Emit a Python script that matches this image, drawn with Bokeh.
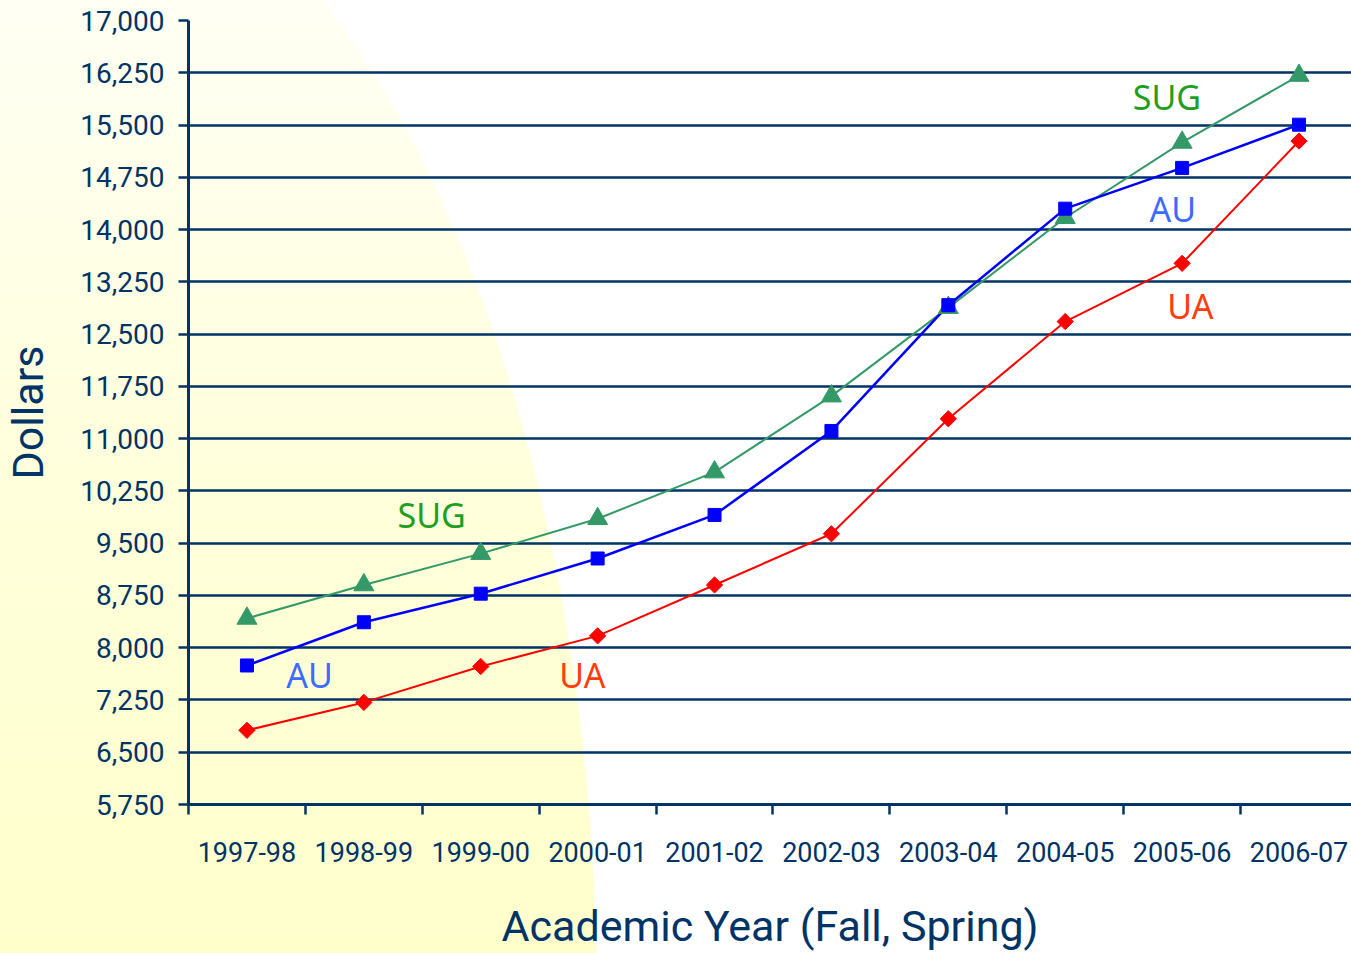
import numpy as np
from bokeh.plotting import figure
from bokeh.models import Range1d, FixedTicker, NumeralTickFormatter, ColumnDataSource
from bokeh.core.properties import value
from bokeh.embed import file_html
from bokeh.resources import INLINE

# ---------------- data ----------------
years = ["1997-98", "1998-99", "1999-00", "2000-01", "2001-02",
         "2002-03", "2003-04", "2004-05", "2005-06", "2006-07"]
sug = [8420, 8900, 9350, 9850, 10520, 11610, 12880, 14170, 15250, 16210]
au = [7745, 8365, 8775, 9280, 9905, 11110, 12915, 14300, 14885, 15505]
ua = [6815, 7215, 7730, 8170, 8900, 9635, 11285, 12680, 13515, 15270]

y_ticks = list(range(5750, 17001, 750))

label_text = ["SUG", "AU", "UA", "SUG", "AU", "UA"]
label_x = [2.08, 1.035, 3.37, 8.37, 8.42, 8.57]
label_y = [9906, 7613, 7613, 15897, 14291, 12901]
label_color = ["#1F9F1F", "#3D6BFF", "#FF3D0A", "#1F9F1F", "#3D6BFF", "#FF3D0A"]

NAVY = "#003366"
TICK_FONT = "Roboto"
LABEL_FONT = "Noto Sans"

x = [i + 0.5 for i in range(len(years))]

W, H = 1351, 953
p = figure(width=W, height=H, output_backend="svg", toolbar_location=None,
           x_range=Range1d(0, 9.949), y_range=Range1d(5750, 17000),
           min_border_left=188, min_border_top=20, min_border_bottom=148,
           min_border_right=0)
p.outline_line_color = None
p.background_fill_color = None
p.border_fill_color = None

# decorative yellow background (CSS behind the transparent canvas)
p.stylesheets = [
    ":host { background-color: #ffffff; background-image: "
    "linear-gradient(to bottom, rgba(255,255,255,0.78) 0%, rgba(255,255,255,0.35) 45%, rgba(255,255,255,0) 100%), "
    "radial-gradient(598px 1191px at 0px 1000px, #ffffcc 0%, #ffffcc 99.6%, #ffffff 100%); }"
]

# ---------------- grid ----------------
p.xgrid.grid_line_color = None
p.ygrid.grid_line_color = NAVY
p.ygrid.grid_line_width = 2.5
p.ygrid.ticker = FixedTicker(ticks=y_ticks)

# ---------------- lines ----------------
p.line(x, sug, line_color="#339966", line_width=2)
p.line(x, au, line_color="#0000FF", line_width=2.5)
p.line(x, ua, line_color="#FF0000", line_width=2)
p.scatter(x, sug, marker="triangle", size=20, fill_color="#339966", line_color="#339966")
p.scatter(x, au, marker="square", size=13, fill_color="#0000FF", line_color="#0000FF")
p.scatter(x, ua, marker="square", angle=np.pi / 4, size=11.5,
          fill_color="#FF0000", line_color="#FF0000")

src = ColumnDataSource(dict(x=label_x, y=label_y, t=label_text, c=label_color))
p.text(x="x", y="y", text="t", source=src, text_color="c",
       text_font=value(LABEL_FONT), text_font_size="34px",
       text_align="center", text_baseline="middle")

# ---------------- axes ----------------
yax = p.yaxis[0]
yax.ticker = FixedTicker(ticks=y_ticks)
yax.formatter = NumeralTickFormatter(format="0,0")
yax.axis_line_color = NAVY
yax.axis_line_width = 3
yax.major_tick_line_color = NAVY
yax.major_tick_line_width = 2.5
yax.major_tick_out = 10
yax.major_tick_in = 0
yax.minor_tick_line_color = None
yax.major_label_text_font = TICK_FONT
yax.major_label_text_font_size = "28px"
yax.major_label_text_color = NAVY
yax.major_label_standoff = 14
yax.axis_label = "Dollars"
yax.axis_label_text_font = TICK_FONT
yax.axis_label_text_font_size = "43px"
yax.axis_label_text_font_style = "normal"
yax.axis_label_text_color = NAVY
yax.axis_label_standoff = 24

xax = p.xaxis[0]
xax.ticker = FixedTicker(ticks=x, minor_ticks=list(range(0, len(years) + 1)))
xax.major_label_overrides = {xi: yr for xi, yr in zip(x, years)}
xax.axis_line_color = NAVY
xax.axis_line_width = 3
xax.major_tick_line_color = None
xax.major_tick_out = 0
xax.major_tick_in = 0
xax.minor_tick_line_color = NAVY
xax.minor_tick_line_width = 2.5
xax.minor_tick_out = 10
xax.minor_tick_in = 0
xax.major_label_text_font = TICK_FONT
xax.major_label_text_font_size = "27px"
xax.major_label_text_color = NAVY
xax.major_label_standoff = 27
xax.axis_label = "Academic Year (Fall, Spring)"
xax.axis_label_text_font = TICK_FONT
xax.axis_label_text_font_size = "43px"
xax.axis_label_text_font_style = "normal"
xax.axis_label_text_color = NAVY
xax.axis_label_standoff = 36

open("out.html", "w").write(file_html(p, INLINE))
